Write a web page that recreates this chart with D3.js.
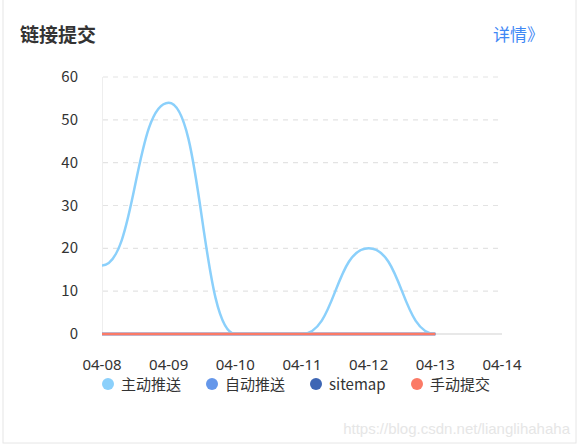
<!DOCTYPE html>
<html><head><meta charset="utf-8">
<script src="https://cdn.jsdelivr.net/npm/d3@7/dist/d3.min.js"></script>
<style>body{margin:0;background:#fff;}svg{display:block;font-family:"Noto Sans CJK SC","Noto Sans",sans-serif;}</style>
</head><body>
<script>
const categories = ["04-08","04-09","04-10","04-11","04-12","04-13","04-14"];
const seriesNames = ["主动推送","自动推送","sitemap","手动提交"];
const seriesColors = ["#8bd0fb","#6597ea","#3e66b4","#fb7a66"];
const activePush = [16,54,0,0,20,0];
const autoPush = [0,0,0,0,0,0];
const sitemapVals = [0,0,0,0,0,0];
const manualVals = [0,0,0,0,0,0];
const yTicks = [0,10,20,30,40,50,60];

const W=579,H=446;
const svg=d3.select("body").append("svg").attr("width",W).attr("height",H);
svg.append("rect").attr("x",3).attr("y",-2).attr("width",573).attr("height",445)
  .attr("fill","#fff").attr("stroke","#e6e6e6").attr("stroke-width",1);

svg.append("text").attr("x",20).attr("y",42).attr("font-size",19).attr("font-weight","bold").attr("fill","#333").text("链接提交");
svg.append("text").attr("x",493).attr("y",41).attr("font-size",17).attr("fill","#3f88f5").text("详情》");

const x=d3.scalePoint().domain(categories).range([102,502]);
const y=d3.scaleLinear().domain([0,60]).range([334,77]);

// grid
svg.append("g").selectAll("line").data(yTicks.filter(d=>d>0)).join("line")
  .attr("x1",103).attr("x2",498).attr("y1",d=>y(d)).attr("y2",d=>y(d))
  .attr("stroke","#e3e3e3").attr("stroke-width",1.2).attr("stroke-dasharray","5,5");
// y axis line
svg.append("line").attr("x1",102.5).attr("x2",102.5).attr("y1",y(60)).attr("y2",y(0)).attr("stroke","#eeeeee");
// x axis line
svg.append("line").attr("x1",x(categories[0])).attr("x2",x(categories[6])).attr("y1",y(0)).attr("y2",y(0)).attr("stroke","#e0e0e0").attr("stroke-width",1.5);

// y labels
svg.append("g").selectAll("text").data(yTicks).join("text")
  .attr("x",78).attr("y",d=>y(d)+5).attr("text-anchor","end").attr("font-size",15).attr("fill","#333").text(d=>d);
// x labels
svg.append("g").selectAll("text").data(categories).join("text")
  .attr("x",d=>x(d)).attr("y",369.5).attr("text-anchor","middle").attr("font-size",15)
  .attr("font-family","Noto Sans, sans-serif").attr("fill","#333").text(d=>d);

const line=d3.line().x((d,i)=>x(categories[i])).y(d=>y(d)).curve(d3.curveBumpX);
const allSeries=[activePush,autoPush,sitemapVals,manualVals];
const order=[1,2,0,3];
order.forEach(k=>{
  svg.append("path").attr("d",line(allSeries[k])).attr("fill","none")
    .attr("stroke",seriesColors[k]).attr("stroke-width",2.5);
});

// legend
const legendX=[108,212,316,417];
seriesNames.forEach((n,i)=>{
  svg.append("circle").attr("cx",legendX[i]).attr("cy",384).attr("r",6).attr("fill",seriesColors[i]);
  svg.append("text").attr("x",legendX[i]+13).attr("y",390).attr("font-size",15).attr("fill","#333").text(n);
});

svg.append("text").attr("x",570).attr("y",434).attr("text-anchor","end").attr("font-size",15)
  .attr("font-family","Liberation Sans, Arial, sans-serif").attr("fill","#e6e6e6").text("https://blog.csdn.net/lianglihahaha");
</script>
</body></html>
